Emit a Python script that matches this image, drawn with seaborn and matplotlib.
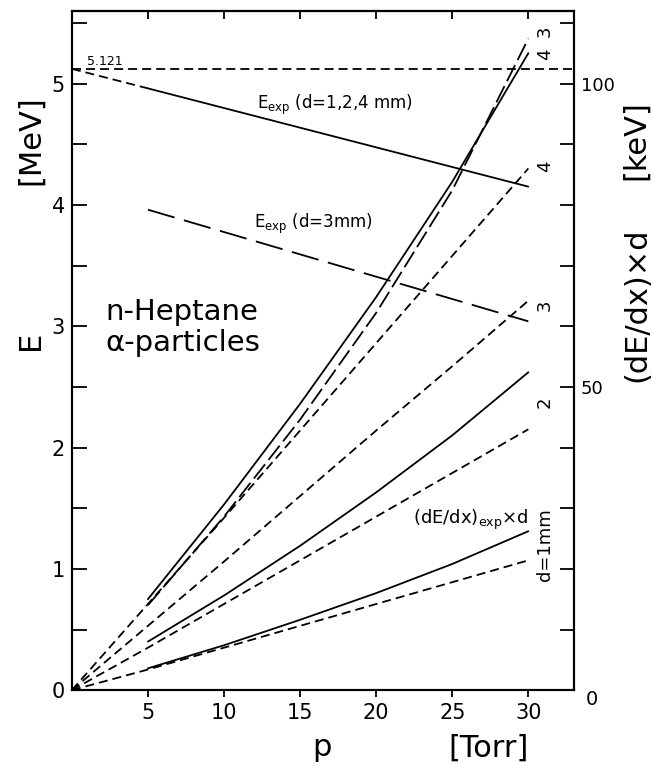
import matplotlib
matplotlib.use('Agg')
import matplotlib.pyplot as plt
from matplotlib.ticker import MultipleLocator, FixedLocator
import seaborn as sns

# druck p in Torr
p_theo = [0, 5, 10, 15, 20, 25, 30]
p_exp = [5, 10, 15, 20, 25, 30]

# energieverlust (dE/dx) x d in MeV (rechte achse: keV, 20 keV = 1 MeV)
theo_d1 = [0, 0.17, 0.35, 0.53, 0.71, 0.89, 1.07]
theo_d2 = [0, 0.35, 0.71, 1.07, 1.43, 1.79, 2.15]
theo_d3 = [0, 0.53, 1.06, 1.60, 2.14, 2.67, 3.21]
theo_d4 = [0, 0.71, 1.42, 2.14, 2.86, 3.58, 4.30]

exp_d1 = [0.18, 0.37, 0.58, 0.80, 1.04, 1.31]
exp_d2 = [0.40, 0.78, 1.19, 1.63, 2.10, 2.62]
exp_d3 = [0.70, 1.43, 2.23, 3.11, 4.12, 5.37]
exp_d4 = [0.75, 1.53, 2.36, 3.24, 4.19, 5.25]

# restenergie E in MeV
E0 = 5.121
p_e124 = [0, 5, 30]
e_124 = [5.121, 4.96, 4.15]
p_e3 = [5, 30]
e_3 = [3.96, 3.04]

sns.set_style('ticks')
plt.rcParams['font.family'] = ['DejaVu Sans']
plt.rcParams['lines.scale_dashes'] = False
for k in ['text.color', 'axes.labelcolor', 'xtick.color', 'ytick.color', 'axes.edgecolor']:
    plt.rcParams[k] = 'black'

short = (0, (6.5, 3.6))
longd = (0, (20, 7))
longd2 = (0, (13, 4))
lw = 1.3

fig = plt.figure(figsize=(6.53, 7.66), dpi=100)
ax = fig.add_axes([0.110, 0.099, 0.769, 0.887])

def line(x, y, ls='-'):
    sns.lineplot(x=x, y=y, ax=ax, color='black', linewidth=lw, linestyle=ls,
                 errorbar=None, sort=False)

# theorie (kurz gestrichelt)
for y in [theo_d1, theo_d2, theo_d3, theo_d4]:
    line(p_theo, y, short)
# experiment
line(p_exp, exp_d1)
line(p_exp, exp_d2)
line(p_exp, exp_d4)
line(p_exp, exp_d3, longd2)

# restenergie
ax.axhline(E0, color='black', linewidth=lw, linestyle=short)
line(p_e124[:2], e_124[:2], short)
line(p_e124[1:], e_124[1:])
line(p_e3, e_3, longd)

ax.set_xlim(0, 33)
ax.set_ylim(0, 5.6)
ax.set_xlabel('')
ax.set_ylabel('')

ax.xaxis.set_major_locator(FixedLocator([5, 10, 15, 20, 25, 30]))
ax.yaxis.set_major_locator(MultipleLocator(1))
ax.yaxis.set_minor_locator(MultipleLocator(0.5))
ax.tick_params(axis='x', direction='out', length=5, width=1.3, labelsize=15, pad=4)
ax.tick_params(axis='y', which='both', direction='in', length=11, width=1.3,
               labelsize=15, pad=5, right=False)

top = ax.secondary_xaxis('top')
top.xaxis.set_major_locator(FixedLocator([5, 10, 15, 20, 25, 30]))
top.tick_params(direction='in', length=6, width=1.3, labeltop=False)

ax2 = ax.twinx()
ax2.set_ylim(0, 5.6 * 20)
ax2.yaxis.set_major_locator(FixedLocator([50, 100]))
ax2.yaxis.set_minor_locator(MultipleLocator(10))
ax2.tick_params(axis='y', which='both', direction='in', length=10, width=1.3,
                labelsize=13, pad=5)

for a in [ax, ax2]:
    for s in a.spines.values():
        s.set_linewidth(1.5)
        s.set_color('black')
top.spines['top'].set_linewidth(1.5)

# texte
ax.text(1.0, 5.18, '5.121', fontsize=9, va='center', ha='left')
ax.text(12.2, 4.82, r'$\mathregular{E_{exp}}$ (d=1,2,4 mm)', fontsize=12, va='center')
ax.text(12.0, 3.84, r'$\mathregular{E_{exp}}$ (d=3mm)', fontsize=12, va='center')
ax.text(2.2, 3.12, 'n-Heptane', fontsize=21, va='center')
ax.text(2.2, 2.86, 'α-particles', fontsize=21, va='center')
ax.text(30.0, 1.40, r'(dE/dx)$_{\mathregular{exp}}$×d', fontsize=13, ha='right', va='center')

for px, py, s in [(31.1, 5.43, '3'), (31.1, 5.24, '4'), (31.1, 4.32, '4'),
                  (31.1, 3.17, '3'), (31.1, 2.37, '2'), (31.1, 1.20, 'd=1mm')]:
    ax.text(px, py, s, fontsize=13, rotation=90, ha='center', va='center')

ax.text(33.8, -0.08, '0', fontsize=14, ha='left', va='center', clip_on=False)

fig.text(30 / 653, 1 - 340 / 766, 'E', fontsize=22, rotation=90, ha='center', va='center')
fig.text(31 / 653, 1 - 140 / 766, '[MeV]', fontsize=22, rotation=90, ha='center', va='center')
fig.text(322 / 653, 1 - 748 / 766, 'p', fontsize=22, ha='center', va='center')
fig.text(489 / 653, 1 - 748 / 766, '[Torr]', fontsize=22, ha='center', va='center')
fig.text(637 / 653, 1 - 305 / 766, '(dE/dx)×d', fontsize=22, rotation=90, ha='center', va='center')
fig.text(636 / 653, 1 - 140 / 766, '[keV]', fontsize=22, rotation=90, ha='center', va='center')

fig.savefig('out.png', dpi=100)
